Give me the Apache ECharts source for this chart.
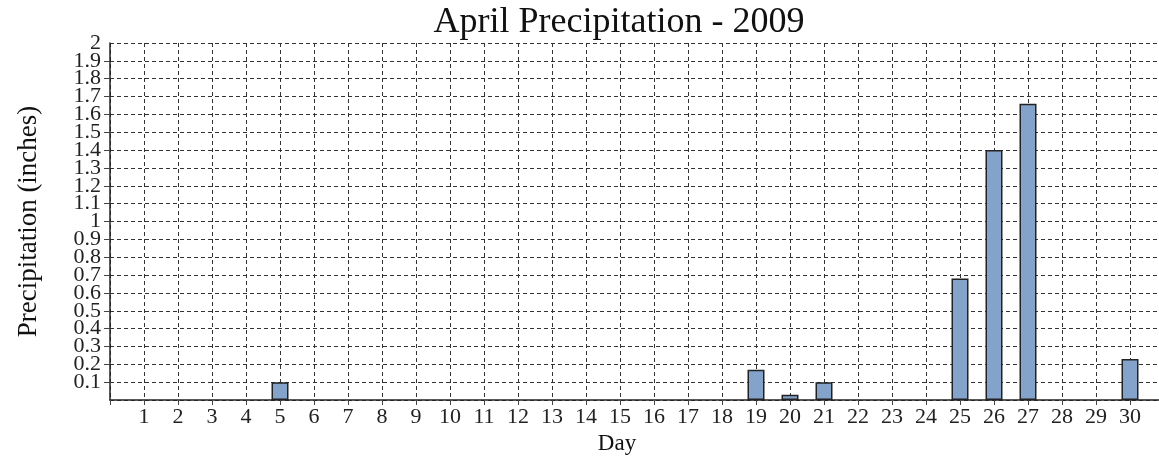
<!DOCTYPE html>
<html><head><meta charset="utf-8">
<script src="https://cdn.jsdelivr.net/npm/echarts@6/dist/echarts.min.js"></script>
<style>html,body{margin:0;padding:0;background:#fff}#c{width:1159px;height:458px}</style>
</head><body><div id="c"></div>
<script>
const days = [1,2,3,4,5,6,7,8,9,10,11,12,13,14,15,16,17,18,19,20,21,22,23,24,25,26,27,28,29,30];
const precip = [0,0,0,0,0.10,0,0,0,0,0,0,0,0,0,0,0,0,0,0.17,0.03,0.10,0,0,0,0.68,1.40,1.66,0,0,0.23];
const title = 'April Precipitation - 2009';
const xName = 'Day';
const yName = 'Precipitation (inches)';

const data = days.map((d,i)=>[d, precip[i]]).filter(p=>p[1]>0);
const font = 'Liberation Serif';
const labelFmt = v=>v===0?'':String(Math.round(v*10)/10);
const chart = echarts.init(document.getElementById('c'));
chart.setOption({
  animation:false,
  textStyle:{fontFamily:font},
  title:{text:title,left:614,textAlign:'center',top:0,textStyle:{fontFamily:font,fontSize:36,fontWeight:'normal',color:'#111'}},
  grid:{left:110,top:43,width:1054,height:357,outerBoundsMode:'none',containLabel:false},
  xAxis:{type:'value',min:0,max:31,interval:1,
    name:xName,nameLocation:'middle',nameGap:21,nameTextStyle:{fontFamily:font,fontSize:23,color:'#111',padding:[0,0,0,-40]},
    axisLine:{show:true,lineStyle:{color:'#222',width:1.5}},
    axisTick:{show:true,length:5,lineStyle:{color:'#444'}},
    axisLabel:{fontFamily:font,fontSize:22,color:'#222',margin:6,hideOverlap:false,formatter:v=>(v>=1&&v<=30)?String(v):''},
    splitLine:{show:true,lineStyle:{type:[4,3],color:'#333',width:1}}
  },
  yAxis:[{type:'value',min:0,max:2,interval:0.1,
    name:yName,nameLocation:'middle',nameGap:68,nameTextStyle:{fontFamily:font,fontSize:27,color:'#111'},
    axisLine:{show:true,lineStyle:{color:'#222',width:1.5}},
    axisTick:{show:true,length:6,lineStyle:{color:'#444'}},
    axisLabel:{fontFamily:font,fontSize:22,color:'#222',margin:9,showMaxLabel:false,showMinLabel:false,formatter:labelFmt},
    splitLine:{show:true,lineStyle:{type:[4,3],color:'#333',width:1}}
  },{type:'value',min:0,max:2,interval:2,position:'left',offset:0,
    axisLine:{show:false},axisTick:{show:false},splitLine:{show:false},
    axisLabel:{fontFamily:font,fontSize:22,color:'#222',margin:9,showMinLabel:false,formatter:labelFmt}
  }],
  series:[{type:'bar',data:data,barWidth:17,
    itemStyle:{color:'#84a3cb',borderColor:'#222',borderWidth:1.5}}]
});
</script></body></html>
